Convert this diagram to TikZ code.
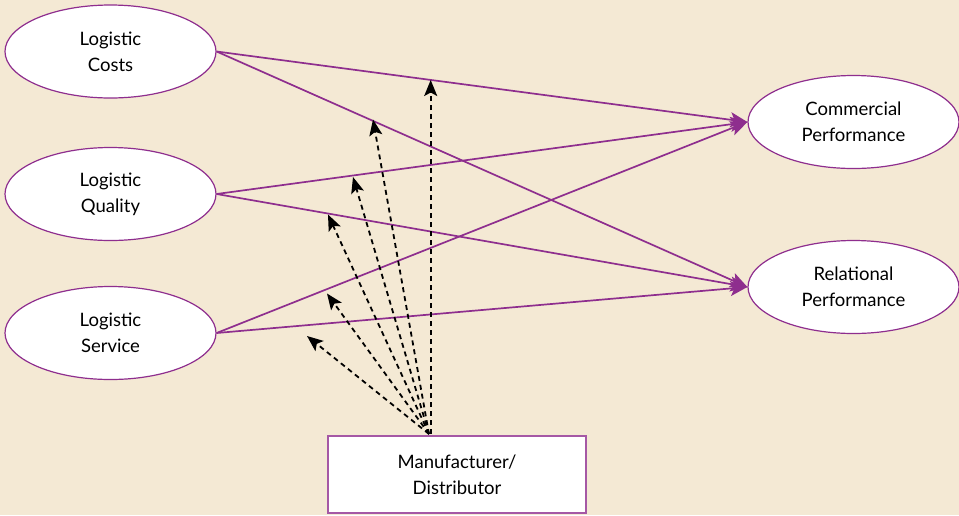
\documentclass[tikz,border=0pt]{standalone}
\usepackage{fontspec}
\setmainfont{Lato}
\usetikzlibrary{arrows.meta,shapes.geometric}
\definecolor{bg}{HTML}{F4E9D4}
\definecolor{pur}{HTML}{8E2E8E}
\tikzset{
  oval/.style={ellipse, draw=pur, line width=1.2pt, fill=white, minimum width=211pt, minimum height=93pt, inner sep=0pt, align=center, font=\fontsize{18.5}{26}\selectfont},
  mbox/.style={rectangle, draw=pur!80, line width=1.3pt, fill=white, minimum width=258pt, minimum height=77pt, inner sep=0pt, align=center, font=\fontsize{18.5}{26}\selectfont},
  link/.style={draw=pur, line width=1.7pt, -{Stealth[length=17pt,width=15pt,inset=4pt]}},
  dlink/.style={draw=black, line width=1.8pt, dash pattern=on 5pt off 4pt, -{Stealth[length=16pt,width=13pt,inset=3.5pt]}}
}
\begin{document}
\begin{tikzpicture}[x=1pt,y=-1pt]
\fill[bg] (0,0) rectangle (959,515);
\useasboundingbox (0,0) rectangle (959,515);
\node[oval] (lc) at (110.5,51.5) {Logistic\\Costs};
\node[oval] (lq) at (110.5,194) {Logistic\\Quality};
\node[oval] (ls) at (110.5,333) {Logistic\\Service};
\node[oval] (cp) at (853.5,122) {Commercial\\Performance};
\node[oval] (rp) at (853.5,287) {Relational\\Performance};
\node[mbox] (md) at (457,474.5) {Manufacturer/\\Distributor};
\coordinate (o) at (429,434);
\coordinate (ov) at (430.7,434);
\draw[link] (lc.east) -- (cp.west);
\draw[link] (lc.east) -- (rp.west);
\draw[link] (lq.east) -- (cp.west);
\draw[link] (lq.east) -- (rp.west);
\draw[link] (ls.east) -- (cp.west);
\draw[link] (ls.east) -- (rp.west);
\coordinate (t1) at (430.7,80);
\coordinate (t2) at (373,119.5);
\coordinate (t3) at (353,177);
\coordinate (t4) at (328,214.5);
\coordinate (t5) at (327,293.5);
\coordinate (t6) at (307,336);
\draw[dlink] (ov) -- (t1);
\draw[dlink] (o) -- (t2);
\draw[dlink] (o) -- (t3);
\draw[dlink] (o) -- (t4);
\draw[dlink] (o) -- (t5);
\draw[dlink] (o) -- (t6);
\end{tikzpicture}
\end{document}
